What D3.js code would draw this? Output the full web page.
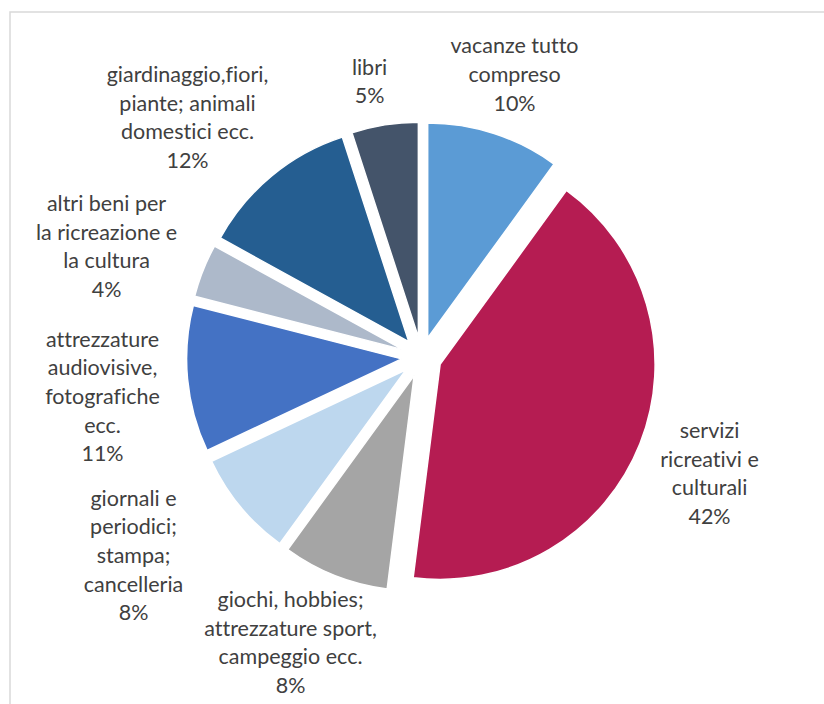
<!DOCTYPE html>
<meta charset="utf-8">
<style>
body {
  margin: 0;
  background: #fff;
}
svg text {
  font-family: Lato, "Open Sans", sans-serif;
  font-size: 21.5px;
  font-variant-ligatures: none;
  fill: #404040;
  text-anchor: middle;
}
</style>
<body>
<svg width="824" height="704"></svg>
<script src="https://cdn.jsdelivr.net/npm/d3@7"></script>
<script>

// categories, clockwise from 12 o'clock
var categories = [
  "vacanze tutto compreso",
  "servizi ricreativi e culturali",
  "giochi, hobbies; attrezzature sport, campeggio ecc.",
  "giornali e periodici; stampa; cancelleria",
  "attrezzature audiovisive, fotografiche ecc.",
  "altri beni per la ricreazione e la cultura",
  "giardinaggio,fiori, piante; animali domestici ecc.",
  "libri"
];
var values = [10, 42, 8, 8, 11, 4, 12, 5];

// label text as wrapped in the original
var labelLines = [
  ["vacanze tutto", "compreso"],
  ["servizi", "ricreativi e", "culturali"],
  ["giochi, hobbies;", "attrezzature sport,", "campeggio ecc."],
  ["giornali e", "periodici;", "stampa;", "cancelleria"],
  ["attrezzature", "audiovisive,", "fotografiche", "ecc."],
  ["altri beni per", "la ricreazione e", "la cultura"],
  ["giardinaggio,fiori,", "piante; animali", "domestici ecc."],
  ["libri"]
];

var colors = ["#5b9bd5", "#b51c52", "#a5a5a5", "#bdd7ee", "#4472c4", "#adb9ca", "#255e91", "#44546a"];

// label block centres relative to the pie centre (excel's label layout)
var labelOffset = [
  [93, -282], [288, 117], [-131, 286], [-288, 199],
  [-319, 40], [-315, -110], [-234, -239], [-52, -275]
];

var cx = 421.5, cy = 357, radius = 215, explode = 20, lineH = 28.7;

var svg = d3.select("svg");

// chart area border
svg.append("rect")
  .attr("x", 10).attr("y", 12)
  .attr("width", 900).attr("height", 800)
  .attr("fill", "none")
  .attr("stroke", "#d9d9d9")
  .attr("stroke-width", 1.5);

var pie = d3.pie().sort(null).value(function(d){ return d; });
var arcs = pie(values);
var arc = d3.arc().innerRadius(0).outerRadius(radius);

var g = svg.append("g").attr("transform", "translate(" + cx + "," + cy + ")");

g.selectAll("path")
  .data(arcs)
  .enter().append("path")
  .attr("d", arc)
  .attr("fill", function(d, i){ return colors[i]; })
  .attr("stroke", "#fff")
  .attr("stroke-width", 1.5)
  .attr("transform", function(d){
    var a = (d.startAngle + d.endAngle) / 2;
    return "translate(" + (explode * Math.sin(a)) + "," + (-explode * Math.cos(a)) + ")";
  });

var fmt = d3.format(".0%");
var total = d3.sum(values);

var labels = g.selectAll("text.lbl")
  .data(arcs)
  .enter().append("text")
  .attr("class", "lbl")
  .attr("transform", function(d, i){
    return "translate(" + labelOffset[i][0] + "," + labelOffset[i][1] + ")";
  });

labels.each(function(d, i){
  var lines = labelLines[i].concat([fmt(d.value / total)]);
  var n = lines.length;
  d3.select(this).selectAll("tspan")
    .data(lines)
    .enter().append("tspan")
    .attr("x", 0)
    .attr("y", function(t, j){ return (j - (n - 1) / 2) * lineH + 7; })
    .text(function(t){ return t; });
});

</script>
</body>
